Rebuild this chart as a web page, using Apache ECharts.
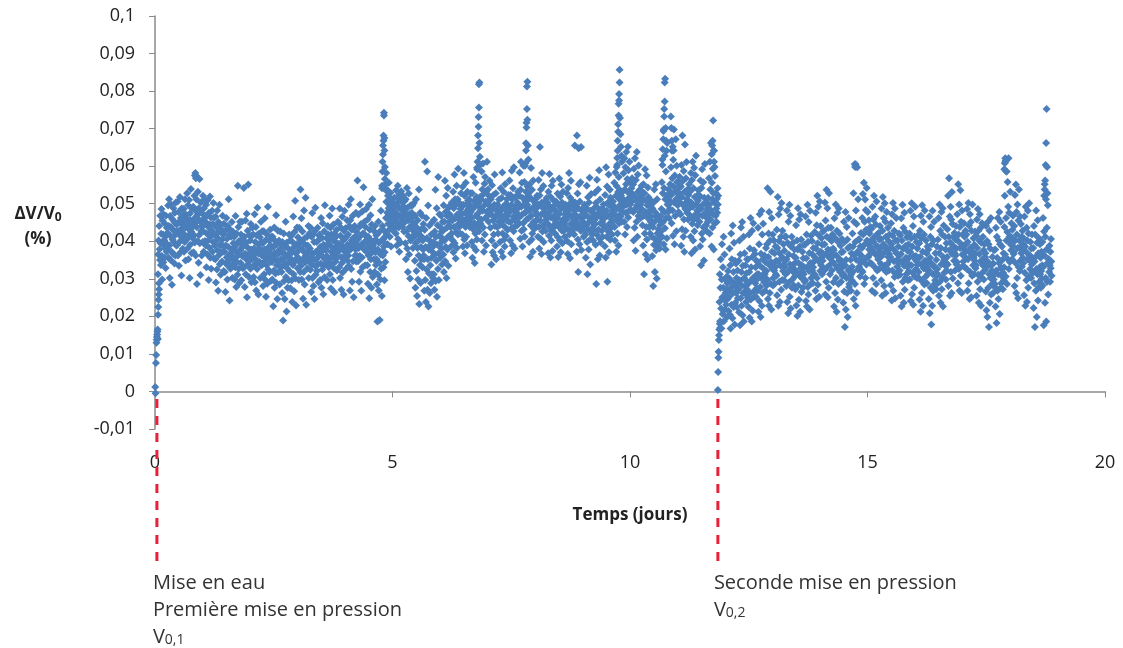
<!DOCTYPE html>
<html>
<head>
<meta charset="utf-8">
<script src="https://cdn.jsdelivr.net/npm/echarts@6/dist/echarts.min.js"></script>
<style>
  html, body { margin: 0; padding: 0; background: #fff; }
  #chart { width: 1123px; height: 648px; }
</style>
</head>
<body>
<div id="chart"></div>
<script>
// values are dV/V0 in units of 0.0001 %, one row = 0.2 day of regular samples
const rowDays = 0.2
const phase1Start = 0.06
const phase2Start = 11.88

const xTicks = [0, 5, 10, 15, 20]
const yTicks = [-0.01, 0, 0.01, 0.02, 0.03, 0.04, 0.05, 0.06, 0.07, 0.08, 0.09, 0.1]

// first filling / first pressurisation (0 -> 11.8 days)
const phase1 = [
  [312,365,402,288,441,379,350,468,395,337,420,486,361,298,455,392,418,344,471,403,402,356,447,381,329,468,415,372,436,392],
  [423,378,495,356,441,512,389,302,467,415,350,438,497,372,284,459,405,431,366,488,398,452,341,476,417,362,503,427,389,445],
  [448,391,506,362,427,478,335,452,399,518,415,371,462,433,309,487,404,445,380,469,421,486,372,455,398,512,436,349,471,412],
  [462,405,528,381,447,496,352,433,510,418,302,474,391,455,539,426,368,487,441,409,438,492,371,459,416,521,397,448,482,362],
  [575,512,438,286,469,401,532,459,343,488,417,566,395,452,310,503,428,476,362,440,456,398,521,427,372,488,445,512,401,467],
  [452,389,497,331,421,468,365,510,402,438,297,476,383,445,519,356,412,463,327,429,427,481,372,446,398,502,355,463,418,389],
  [418,352,465,290,401,437,325,482,376,409,268,451,363,426,497,339,390,444,311,372,392,431,346,405,468,372,418,321,447,386],
  [372,318,428,265,389,341,462,357,407,298,441,335,385,512,349,418,242,366,431,327,365,412,334,451,378,302,426,356,395,341],
  [355,412,298,386,331,467,372,278,421,345,395,311,548,362,438,327,401,289,377,452,376,342,418,296,392,452,361,407,328,387],
  [389,542,331,412,278,367,455,312,396,352,473,251,384,428,339,551,366,305,417,348,361,402,327,446,378,291,415,352,436,372],
  [362,418,305,381,337,472,291,398,352,438,269,373,416,326,489,345,392,258,367,421,382,345,411,302,376,452,336,398,362,427],
  [338,395,281,362,427,312,378,461,298,349,403,252,371,336,418,287,355,492,325,384,356,402,318,378,431,346,389,295,366,412],
  [345,298,412,361,227,385,322,437,276,368,401,314,352,469,289,336,392,246,373,428,366,318,402,347,285,378,426,331,392,352],
  [318,371,262,398,335,189,352,421,294,367,246,384,339,452,305,362,213,397,328,276,342,381,296,362,418,321,356,402,275,371],
  [352,415,296,371,238,398,337,466,312,384,267,425,346,508,301,368,229,392,355,437,372,328,411,356,392,297,436,345,382,318],
  [538,402,335,461,298,379,426,352,247,395,318,482,371,285,409,344,516,362,231,388,366,412,328,389,351,441,302,376,421,345],
  [381,324,436,356,265,412,338,475,302,367,419,281,352,398,246,427,335,489,311,372,352,398,321,374,436,338,402,291,368,415],
  [362,418,297,385,341,462,276,372,409,325,448,358,259,391,336,427,304,496,352,381,376,342,408,361,297,392,441,352,418,331],
  [405,351,468,312,389,436,274,372,418,338,487,361,297,402,445,329,378,264,421,356,384,346,412,368,431,322,395,358,452,376],
  [392,448,331,376,487,302,415,358,436,271,389,342,465,317,402,376,258,428,353,481,406,362,435,381,327,412,372,456,391,348],
  [418,362,497,335,441,389,269,456,378,512,326,402,431,292,385,468,347,409,251,438,398,441,362,412,378,476,346,425,392,361],
  [562,405,347,471,382,292,438,361,498,319,415,446,268,392,357,479,331,421,384,544,421,378,452,398,336,438,401,486,372,412],
  [395,336,458,287,412,362,497,248,384,431,318,469,352,402,276,445,371,512,305,388,381,428,352,396,318,441,371,405,337,416],
  [352,285,418,186,378,311,452,269,396,342,190,427,298,365,481,327,402,254,373,441,362,405,331,386,428,296,371,412,345,392],
  [462,505,418,538,476,392,521,447,488,556,431,497,412,468,529,455,386,512,474,441,482,451,503,468,427,492,516,458,474,437],
  [478,421,536,452,389,502,467,548,406,491,437,523,372,468,512,445,397,486,533,459,466,503,438,482,521,451,492,426,478,507],
  [451,395,512,352,468,427,542,381,489,318,456,414,527,365,472,438,301,495,402,463,438,476,412,495,451,382,468,427,502,446],
  [412,348,468,276,395,512,321,437,254,382,456,298,421,362,538,233,405,337,476,289,385,432,352,412,468,331,402,378,446,362],
  [352,268,431,612,297,385,238,462,325,408,586,271,352,495,226,378,314,442,262,401,336,391,288,418,356,312,372,452,302,386],
  [398,312,457,271,426,365,537,294,412,348,488,252,391,443,326,571,368,297,415,472,392,438,356,412,468,381,427,338,402,452],
  [428,365,496,318,452,402,561,347,478,385,521,302,436,467,378,542,412,335,489,451,441,472,412,496,438,386,465,421,503,458],
  [456,402,532,371,488,438,578,395,512,461,354,497,425,548,382,471,512,418,593,446,471,438,502,456,421,486,462,528,445,492],
  [472,418,545,386,497,452,582,405,521,368,476,438,556,412,498,461,389,532,447,508,486,452,512,471,438,497,462,528,478,445],
  [462,398,528,356,486,432,571,385,507,449,342,493,421,556,376,468,518,405,592,441,473,438,502,461,427,491,451,518,482,446],
  [512,458,586,402,538,481,607,437,526,372,495,553,418,571,462,506,389,534,478,612,502,468,538,482,452,521,496,561,476,512],
  [436,512,471,338,402,549,488,371,455,523,418,362,497,578,441,389,466,528,352,481,467,438,498,472,421,486,452,511,476,443],
  [398,467,541,482,372,515,446,583,421,359,492,457,531,405,468,386,552,437,499,414,482,456,512,467,431,496,478,523,452,487],
  [562,478,402,523,451,368,497,588,436,512,389,541,465,427,597,482,381,456,518,441,492,461,518,476,442,503,487,532,468,497],
  [448,521,583,465,407,537,612,492,428,556,471,386,515,448,601,432,497,558,412,476,506,478,532,491,458,518,497,546,482,511],
  [527,462,398,551,483,359,516,442,595,468,405,537,421,489,372,562,451,506,433,486,486,452,512,477,438,496,469,521,458,491],
  [412,497,563,438,381,522,651,455,407,538,471,366,503,582,426,489,441,547,398,472,478,446,506,467,428,489,458,515,472,496],
  [503,447,368,532,476,415,579,438,492,357,518,463,402,548,427,486,374,561,441,509,467,438,496,458,421,482,451,506,472,445],
  [386,462,527,411,358,495,438,567,473,402,519,446,371,488,551,429,503,395,456,532,458,427,486,447,412,472,439,497,462,481],
  [457,528,401,482,366,542,431,497,582,418,471,355,516,446,561,392,488,427,508,463,466,435,492,458,418,481,446,503,471,452],
  [498,436,372,682,461,527,405,318,487,552,441,392,506,466,557,428,651,377,482,452,462,431,488,451,412,476,443,497,468,482],
  [418,356,489,442,548,398,312,466,517,431,378,503,452,569,404,338,481,427,526,461,452,418,476,437,402,465,428,488,456,471],
  [529,446,391,502,286,463,564,417,489,352,538,431,476,589,408,362,511,448,397,472,463,428,487,451,412,476,442,498,467,481],
  [462,387,523,438,357,597,481,412,546,292,468,503,426,578,371,495,447,537,404,516,471,436,496,458,418,482,452,506,473,489],
  [493,556,438,402,583,469,521,372,547,486,603,421,458,531,389,571,448,512,469,536,497,466,521,482,452,508,476,532,491,512],
  [581,503,452,621,538,418,597,476,552,638,497,438,566,512,652,463,589,528,481,612,532,498,556,517,482,541,506,568,526,551],
  [552,478,402,593,521,436,621,487,375,563,508,452,638,496,412,578,532,467,602,514,512,478,538,497,462,523,487,548,506,531],
  [443,512,389,552,468,312,528,421,592,478,365,507,438,575,405,496,352,543,461,517,472,438,498,457,421,483,451,508,466,489],
  [412,361,486,438,281,503,391,538,452,318,477,405,552,376,465,301,512,421,386,468,432,398,458,417,381,443,408,467,426,452],
  [486,557,412,603,528,451,694,392,542,478,628,435,512,378,586,462,521,408,662,498,512,478,538,497,461,523,486,552,506,531],
  [597,523,448,641,568,482,415,617,546,698,503,392,575,467,532,672,512,427,601,558,532,496,558,517,478,543,505,572,526,548],
  [471,545,388,603,518,432,682,497,561,412,587,458,372,532,658,486,428,568,503,611,512,476,538,497,458,523,486,552,506,531],
  [536,468,412,582,503,368,563,447,612,492,402,541,458,596,427,518,378,576,472,628,497,462,521,482,443,508,471,536,492,516],
  [452,521,387,562,486,336,542,421,592,468,405,498,557,437,349,516,471,606,442,502,478,443,502,462,426,488,452,516,472,497],
  [568,497,421,612,538,458,662,482,386,556,511,437,593,472,528,378,641,503,448,574,502,468,528,487,451,513,476,541,498,521]
]

// second pressurisation (11.9 -> 18.9 days)
const phase2 = [
  [238,312,187,276,352,221,168,298,392,251,206,331,276,412,187,245,365,218,298,262,272,231,305,254,198,288,246,321,265,214],
  [302,252,381,204,336,168,276,421,231,352,292,195,442,262,318,225,396,288,178,348,236,281,341,262,302,225,271,322,248,286],
  [271,348,211,402,296,176,365,248,437,318,228,282,451,203,335,262,412,186,302,368,298,262,336,281,238,315,273,352,292,251],
  [352,287,225,418,318,196,381,262,462,245,331,296,186,428,358,215,302,448,251,376,268,305,366,288,331,252,296,348,275,312],
  [268,345,436,212,312,392,241,472,335,278,198,367,302,481,228,418,262,352,447,312,326,291,362,312,268,345,301,382,321,282],
  [392,298,541,246,358,421,228,478,336,262,402,532,287,345,218,462,372,326,418,282,302,341,402,322,368,287,331,386,312,348],
  [308,431,256,382,518,346,228,471,401,292,368,238,487,335,412,271,502,356,297,428,356,321,392,338,296,375,331,412,348,312],
  [413,281,352,482,238,396,318,208,452,365,291,497,252,338,468,221,386,328,412,276,298,336,396,318,361,282,326,378,306,342],
  [272,356,443,229,318,402,201,378,488,282,342,244,458,308,386,212,472,328,405,265,336,301,372,318,276,355,312,391,331,292],
  [391,296,466,241,355,418,226,331,497,278,399,258,451,321,369,218,481,342,286,415,302,341,401,322,365,288,331,382,312,346],
  [312,425,357,268,476,381,246,443,302,521,395,284,492,347,416,252,368,506,321,441,372,336,408,356,312,391,348,426,366,326],
  [428,322,392,503,258,455,366,292,537,412,331,488,251,378,436,276,528,356,406,312,338,376,436,356,401,322,366,418,345,381],
  [291,376,226,461,338,262,408,498,302,362,212,428,328,476,245,398,286,487,348,421,352,318,388,336,292,371,328,406,346,308],
  [372,236,312,452,266,398,172,336,478,218,351,302,438,262,405,198,382,322,462,278,286,326,386,305,351,268,312,368,296,332],
  [421,318,386,528,246,452,362,605,286,398,228,482,351,446,262,597,372,325,512,405,368,332,405,351,306,386,342,422,362,322],
  [382,462,318,526,418,348,556,286,452,392,511,302,483,431,338,542,402,358,478,426,358,396,456,378,421,342,386,438,368,402],
  [341,434,268,492,376,302,458,398,521,332,412,262,466,365,445,286,506,386,322,418,386,352,422,371,326,405,362,441,381,341],
  [406,296,487,361,255,428,518,327,392,461,281,371,501,336,452,262,412,318,478,382,338,376,436,358,401,322,366,418,348,382],
  [358,283,448,392,242,472,322,415,502,268,378,347,428,305,487,248,402,313,462,368,368,332,402,352,308,386,342,421,362,322],
  [311,416,255,366,461,226,402,346,497,292,381,436,236,335,476,271,426,302,388,356,312,351,411,332,375,296,341,392,321,356],
  [421,298,372,481,241,408,336,501,259,386,316,441,231,361,466,276,412,306,492,351,361,326,398,346,302,381,338,416,356,318],
  [302,395,245,428,358,212,468,338,408,262,496,292,372,228,452,328,418,285,482,348,305,342,402,325,368,288,332,386,312,348],
  [378,246,322,466,208,356,412,276,438,178,341,392,228,481,312,268,402,332,452,286,332,296,368,316,272,351,308,386,326,288],
  [405,311,462,255,368,498,292,428,236,382,338,478,272,418,302,488,226,358,442,348,316,352,412,335,378,298,342,395,322,358],
  [432,338,521,281,412,568,376,466,255,396,492,318,458,262,531,366,446,301,412,385,386,348,422,368,322,405,362,441,381,338],
  [345,472,402,288,552,418,326,498,268,438,382,536,308,452,392,262,482,365,418,335,346,388,448,368,412,331,376,428,356,392],
  [418,326,486,268,398,352,502,288,442,372,246,472,318,382,451,251,428,362,308,498,372,336,408,356,312,391,348,426,366,328],
  [336,415,255,458,382,292,486,311,428,236,402,366,472,272,346,436,228,396,302,448,316,352,412,335,376,298,342,392,322,358],
  [368,266,441,216,331,401,198,346,452,276,392,172,312,428,236,381,302,462,258,336,322,286,358,306,262,341,298,376,316,278],
  [286,378,226,436,322,182,412,356,268,462,312,246,402,342,478,206,392,275,452,331,288,326,386,306,351,272,316,368,296,331],
  [438,521,365,612,306,462,402,586,286,425,558,352,492,621,326,476,412,345,532,392,412,376,448,396,352,431,388,468,406,366],
  [372,441,281,523,402,342,551,262,478,418,302,498,382,248,455,331,538,402,321,466,348,386,446,368,412,332,376,428,356,392],
  [342,408,256,466,316,386,228,492,372,296,436,238,402,352,481,276,421,306,501,362,362,326,398,346,302,381,338,418,356,318],
  [316,382,222,441,288,346,172,418,358,268,482,326,198,396,312,456,242,368,278,408,292,331,392,312,356,276,321,372,301,336],
  [398,282,462,332,176,426,362,538,236,412,302,512,186,378,436,292,342,496,258,352,352,318,388,336,292,372,328,406,346,308]
]

// [days, value] - rise after each pressurisation
const ramp1 = [[0.005,12],[0.01,-5],[0.02,76],[0.025,97],[0.03,130],[0.035,138],[0.04,145],[0.045,152],
  [0.05,160],[0.055,165],[0.06,140],[0.065,204],[0.07,225],[0.075,244],[0.08,258],[0.085,272]]
const ramp2 = [[11.85,4],[11.855,52],[11.86,90],[11.865,106],[11.87,137],[11.875,150],[11.88,165],[11.89,180],[11.9,170]]

// [days, value] - short spikes above the main cloud
const peaks = [
  [0.84,575],[0.85,582],[0.86,568],
  [4.78,548],[4.78,541],[4.79,586],[4.79,612],[4.8,631],[4.8,655],[4.81,668],[4.81,682],[4.82,735],[4.82,742],
  [4.83,675],[4.83,642],[4.84,598],[4.84,566],[4.85,552],[4.86,536],[4.87,582],
  [6.78,596],[6.79,612],[6.8,648],[6.8,682],[6.81,705],[6.81,731],[6.82,756],[6.82,818],[6.83,823],[6.83,662],[6.84,625],[6.85,604],
  [7.79,601],[7.8,608],[7.81,642],[7.81,661],[7.82,703],[7.82,716],[7.83,752],[7.83,812],[7.84,825],[7.84,724],[7.85,655],[7.86,618],
  [8.84,655],[8.92,648],
  [9.72,598],[9.73,622],[9.74,641],[9.74,668],[9.75,692],[9.75,712],[9.76,735],[9.76,766],[9.77,775],[9.77,792],
  [9.78,823],[9.78,857],[9.79,728],[9.8,685],[9.81,652],[9.82,628],[9.83,612],
  [10.68,618],[10.69,645],[10.7,672],[10.71,698],[10.72,732],[10.72,752],[10.73,772],[10.73,823],[10.74,833],
  [10.75,702],[10.76,668],[10.77,641],[10.86,732],[10.87,702],[10.88,668],[10.9,652],[10.92,642],
  [11.72,632],[11.73,655],[11.74,668],[11.75,722],[11.76,642],[11.77,612],[11.78,598],
  [14.74,598],[14.75,605],
  [17.88,592],[17.89,608],[17.9,621],[17.91,615],[17.92,586],
  [18.72,521],[18.73,552],[18.74,562],[18.75,603],[18.76,662],[18.77,752],[18.78,598],[18.79,528]
]

// event markers (days)
const events = [
  { t: 0.04, lines: ['Mise en eau', 'Première mise en pression', 'V{s|0,1}'] },
  { t: 11.85, lines: ['Seconde mise en pression', 'V{s|0,2}'] }
]

function rowsToPoints(rows, start) {
  const pts = []
  rows.forEach((row, r) => {
    row.forEach((v, i) => {
      pts.push([start + r * rowDays + (i + 0.5) * rowDays / row.length, v / 10000])
    })
  })
  return pts
}
const toPct = list => list.map(p => [p[0], p[1] / 10000])

const points = [].concat(
  toPct(ramp1),
  rowsToPoints(phase1, phase1Start),
  toPct(ramp2),
  rowsToPoints(phase2, phase2Start),
  toPct(peaks)
)

const axisColor = '#8a8a8a'
const textColor = '#222'
const font = '"Open Sans", "DejaVu Sans", sans-serif'

const chart = echarts.init(document.getElementById('chart'), null, { renderer: 'canvas' })

chart.setOption({
  animation: false,
  backgroundColor: '#fff',
  grid: { left: 155, right: 18, top: 16, bottom: 219 },
  xAxis: {
    type: 'value',
    min: xTicks[0],
    max: xTicks[xTicks.length - 1],
    interval: 5,
    name: 'Temps (jours)',
    nameLocation: 'middle',
    nameGap: 78,
    nameTextStyle: { fontFamily: font, fontWeight: 'bold', fontSize: 17, color: textColor },
    axisLine: { lineStyle: { color: axisColor, width: 1.5 } },
    axisTick: { show: true, length: 6, lineStyle: { color: axisColor } },
    axisLabel: { margin: 25, fontFamily: font, fontSize: 18, color: textColor },
    splitLine: { show: false }
  },
  yAxis: {
    type: 'value',
    min: yTicks[0],
    max: yTicks[yTicks.length - 1],
    interval: 0.01,
    axisLine: { show: true, lineStyle: { color: axisColor, width: 1.5 } },
    axisTick: { show: true, length: 6, lineStyle: { color: axisColor } },
    axisLabel: {
      margin: 20,
      fontFamily: font,
      fontSize: 18,
      color: textColor,
      formatter: v => String(+v.toFixed(2)).replace('.', ',')
    },
    splitLine: { show: false }
  },
  series: [{
    type: 'scatter',
    symbol: 'diamond',
    symbolSize: 8,
    itemStyle: { color: '#4a7ebb', opacity: 1 },
    data: points
  }]
})

// y axis title, dashed event lines and their captions
const graphics = [{
  type: 'text',
  x: 38, y: 214,
  style: {
    text: 'ΔV/V{s|0}', fill: textColor, font: 'bold 17px ' + font,
    align: 'center', verticalAlign: 'middle',
    rich: { s: { fontSize: 12, fontWeight: 'bold', fontFamily: font, fill: textColor, padding: [8, 0, 0, 0] } }
  }
}, {
  type: 'text',
  x: 38, y: 239,
  style: { text: '(%)', fill: textColor, font: 'bold 17px ' + font, align: 'center', verticalAlign: 'middle' }
}]

events.forEach(ev => {
  const px = chart.convertToPixel({ xAxisIndex: 0 }, ev.t)
  const top = chart.convertToPixel({ yAxisIndex: 0 }, -0.002)
  graphics.push({
    type: 'line',
    shape: { x1: px, y1: top, x2: px, y2: 566 },
    style: { stroke: '#e8203a', lineWidth: 3, lineDash: [9, 8] },
    z: 10
  })
  ev.lines.forEach((line, k) => {
    graphics.push({
      type: 'text',
      x: px - 4, y: 583 + k * 27,
      style: {
        text: line, fill: '#333', font: '20px ' + font, verticalAlign: 'middle',
        rich: { s: { fontSize: 14, fontFamily: font, fill: '#333', padding: [6, 0, 0, 0] } }
      }
    })
  })
})

chart.setOption({ graphic: graphics })
</script>
</body>
</html>
